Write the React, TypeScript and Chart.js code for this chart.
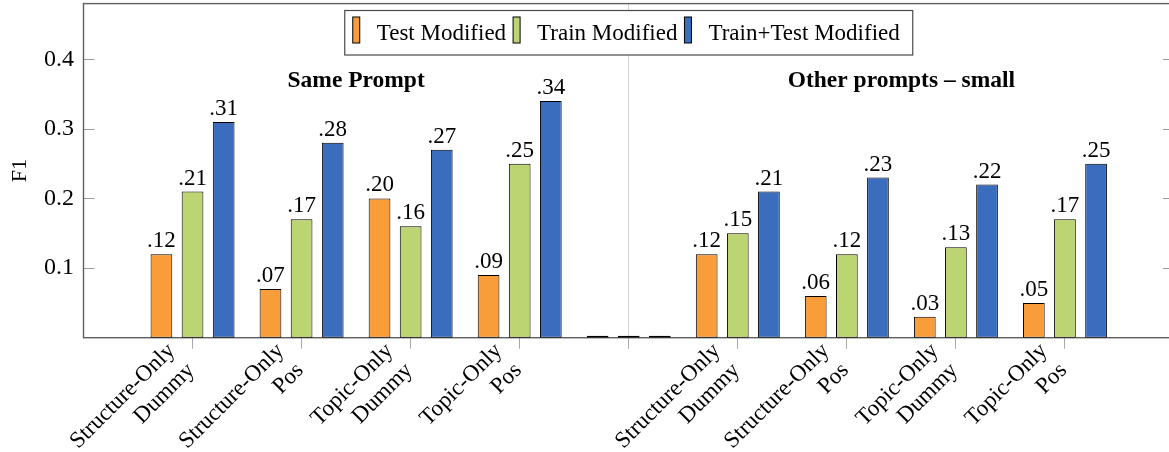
import { useEffect, useRef } from 'react';
import { Chart, registerables } from 'chart.js';

Chart.register(...registerables);

// Category names (two-line tick labels) shared by both prompt groups
const categories: string[][] = [
  ['Structure-Only', 'Dummy'],
  ['Structure-Only', 'Pos'],
  ['Topic-Only', 'Dummy'],
  ['Topic-Only', 'Pos'],
];
const groupTitles = ['Same Prompt', 'Other prompts – small'];
const seriesNames = ['Test Modified', 'Train Modified', 'Train+Test Modified'];
const seriesColors = ['#f99d3a', '#bdd472', '#3a6dbd'];

// F1 scores, "Same Prompt" group
const sameTest = [0.12, 0.07, 0.2, 0.09];
const sameTrain = [0.21, 0.17, 0.16, 0.25];
const sameBoth = [0.31, 0.28, 0.27, 0.34];
// F1 scores, "Other prompts – small" group
const otherTest = [0.12, 0.06, 0.03, 0.05];
const otherTrain = [0.15, 0.12, 0.13, 0.17];
const otherBoth = [0.21, 0.23, 0.22, 0.25];

const yTicks = [0.1, 0.2, 0.3, 0.4];
const yMax = 0.48;
const titleLevel = 0.36;

const SERIF = "'Liberation Serif', 'DejaVu Serif', 'Times New Roman', Times, serif";

// Axis layout: an empty slot at each end and a spacer slot between the groups
const labels = ['', ...categories, '', ...categories, ''];
const spacerIndex = 1 + categories.length;
const lastIndex = labels.length - 1;
const row = (a: number[], b: number[]) => [null, ...a, 0, ...b, null];
const seriesData = [row(sameTest, otherTest), row(sameTrain, otherTrain), row(sameBoth, otherBoth)];

const fmt = (v: number) => v.toFixed(2).replace(/^0/, '');

const decorations = {
  id: 'pgfDecorations',
  beforeDatasetsDraw(chart: any) {
    const { ctx, chartArea: a, scales } = chart;
    const y = scales.y;
    ctx.save();
    ctx.strokeStyle = '#9a9a9a';
    ctx.lineWidth = 1;
    yTicks.forEach((v) => {
      const py = Math.round(y.getPixelForValue(v)) + 0.5;
      ctx.beginPath();
      ctx.moveTo(a.left, py);
      ctx.lineTo(a.left + 11, py);
      ctx.moveTo(a.right - 11, py);
      ctx.lineTo(a.right, py);
      ctx.stroke();
    });
    ctx.strokeStyle = '#5f5f5f';
    ctx.lineWidth = 1.4;
    ctx.strokeRect(a.left, a.top, a.right - a.left, a.bottom - a.top);
    ctx.restore();
  },
  afterDatasetsDraw(chart: any) {
    const { ctx, chartArea: a, scales } = chart;
    ctx.save();
    // value labels above the bars
    ctx.fillStyle = '#000';
    ctx.font = `23px ${SERIF}`;
    ctx.textAlign = 'center';
    ctx.textBaseline = 'alphabetic';
    chart.data.datasets.forEach((ds: any, i: number) => {
      const meta = chart.getDatasetMeta(i);
      meta.data.forEach((bar: any, j: number) => {
        const v = ds.data[j];
        if (v == null || v === 0) return;
        ctx.fillText(fmt(v), bar.x, bar.y - 7);
      });
    });
    // group titles
    ctx.font = `bold 23.5px ${SERIF}`;
    const ty = scales.y.getPixelForValue(titleLevel);
    const n = categories.length;
    const centers = [(1 + n) / 2, spacerIndex + (1 + n) / 2];
    groupTitles.forEach((t, k) => {
      ctx.fillText(t, scales.x.getPixelForValue(centers[k]), ty);
    });
    // framed legend
    ctx.font = `23px ${SERIF}`;
    const swW = 7, swH = 26, gapA = 17, gapB = 7, padL = 8, padR = 13;
    const names = chart.data.datasets.map((d: any) => d.label);
    const widths = names.map((t: string) => ctx.measureText(t).width);
    let total = padL + padR + gapB * (names.length - 1);
    widths.forEach((w: number) => (total += swW + gapA + w));
    const left = (a.left + a.right) / 2 - total / 2;
    const top = 10.5;
    const h = 44.5;
    ctx.fillStyle = '#fff';
    ctx.fillRect(left, top, total, h);
    ctx.strokeStyle = '#4a4a4a';
    ctx.lineWidth = 1.2;
    ctx.strokeRect(left, top, total, h);
    let x = left + padL;
    ctx.textAlign = 'left';
    ctx.textBaseline = 'middle';
    names.forEach((t: string, k: number) => {
      const ds = chart.data.datasets[k];
      ctx.fillStyle = ds.backgroundColor;
      ctx.fillRect(x, top + 6.5, swW, swH);
      ctx.strokeStyle = '#000';
      ctx.lineWidth = 1;
      ctx.strokeRect(x, top + 6.5, swW, swH);
      x += swW + gapA;
      ctx.fillStyle = '#000';
      ctx.fillText(t, x, top + h / 2 + 1);
      x += widths[k] + gapB;
    });
    ctx.restore();
  },
};

export default function App() {
  const ref = useRef<HTMLCanvasElement>(null);

  useEffect(() => {
    if (!ref.current) return;
    const chart = new Chart(ref.current, {
      type: 'bar',
      data: {
        labels,
        datasets: seriesNames.map((name, i) => ({
          label: name,
          data: seriesData[i],
          backgroundColor: seriesColors[i],
          borderColor: '#000',
          borderWidth: 1,
          borderSkipped: false,
          categoryPercentage: 0.856,
          barPercentage: 0.698,
          minBarLength: 2,
        })),
      },
      options: {
        responsive: false,
        animation: false,
        layout: { padding: { left: 0, right: 6, top: 3.6, bottom: 0 } },
        plugins: { legend: { display: false }, tooltip: { enabled: false } },
        scales: {
          x: {
            type: 'category',
            offset: false,
            afterFit: (s: any) => {
              s.height = 114.3;
              s.paddingLeft = 0;
              s.paddingRight = 0;
            },
            border: { display: false },
            grid: {
              offset: false,
              lineWidth: 1,
              tickLength: 11,
              color: (c: any) => (c.index === spacerIndex ? '#d4d4d4' : 'rgba(0,0,0,0)'),
              tickColor: (c: any) =>
                c.index === 0 || c.index === lastIndex ? 'rgba(0,0,0,0)' : '#a8a8a8',
            },
            ticks: {
              autoSkip: false,
              minRotation: 45,
              maxRotation: 45,
              labelOffset: -21,
              padding: -11,
              color: '#000',
              font: { family: SERIF, size: 23, lineHeight: 1.2 },
            },
          },
          y: {
            min: 0,
            max: yMax,
            afterFit: (s: any) => {
              s.width = 83.5;
              s.paddingTop = 0;
              s.paddingBottom = 0;
            },
            afterBuildTicks: (s: any) => {
              s.ticks = yTicks.map((value) => ({ value }));
            },
            border: { display: false },
            grid: { display: false, drawTicks: false },
            ticks: {
              padding: 9.5,
              color: '#000',
              font: { family: SERIF, size: 24 },
              callback: (v: any) => Number(v).toFixed(1),
            },
            title: {
              display: true,
              text: 'F1',
              color: '#000',
              font: { family: SERIF, size: 22, lineHeight: 1.2 },
              padding: { top: 7, bottom: 0 },
            },
          },
        },
      },
      plugins: [decorations],
    } as any);
    return () => chart.destroy();
  }, []);

  return (
    <div
      style={{
        position: 'absolute',
        left: 0,
        top: 0,
        width: 1169,
        height: 452,
        overflow: 'hidden',
        background: '#fff',
      }}
    >
      <canvas ref={ref} width={1180} height={452} style={{ display: 'block' }} />
    </div>
  );
}
